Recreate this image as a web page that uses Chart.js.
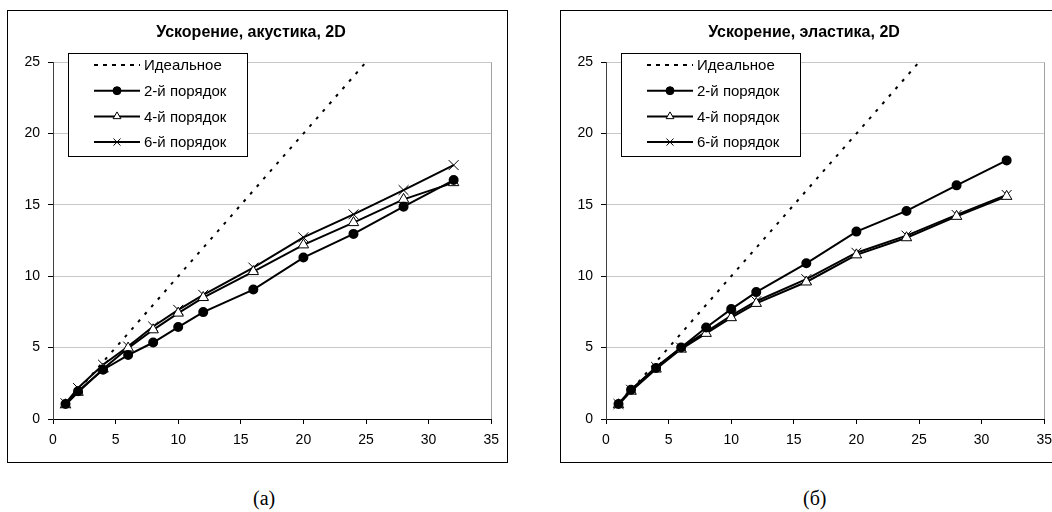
<!DOCTYPE html>
<html>
<head>
<meta charset="utf-8">
<script src="https://cdn.jsdelivr.net/npm/chart.js@4/dist/chart.umd.min.js"></script>
<style>
    body { margin: 0; width: 1052px; height: 512px; overflow: hidden; background: #fff; position: relative; }
    .box { position: absolute; top: 10px; width: 499px; height: 451px; border: 1px solid #000; }
    .caption { position: absolute; top: 487px; font: 20px/22px "Liberation Serif", serif; color: #000; }
</style>
</head>
<body>
<div class="box" style="left:7px"><canvas id="acousticChart" width="499" height="451"></canvas></div>
<div class="box" style="left:560px"><canvas id="elasticChart" width="499" height="451"></canvas></div>
<div class="caption" style="left:253px">(а)</div>
<div class="caption" style="left:803px">(б)</div>
<script>
const processors = [1, 2, 4, 6, 8, 10, 12, 16, 20, 24, 28, 32];
const ideal = [1, 2, 4, 6, 8, 10, 12, 16, 20, 24, 28, 32];

const acoustic2 = [1.05, 1.94, 3.45, 4.48, 5.36, 6.44, 7.49, 9.07, 11.31, 12.97, 14.88, 16.74];
const acoustic4 = [1.0, 1.87, 3.5, 4.97, 6.25, 7.42, 8.51, 10.33, 12.2, 13.76, 15.39, 16.56];
const acoustic6 = [1.1, 2.17, 3.8, 5.08, 6.48, 7.65, 8.7, 10.61, 12.73, 14.34, 16.04, 17.79];

const elastic2 = [1.05, 2.05, 3.57, 5.01, 6.41, 7.7, 8.89, 10.91, 13.13, 14.58, 16.37, 18.12];
const elastic4 = [1.0, 1.95, 3.5, 4.9, 6.0, 7.1, 8.1, 9.6, 11.5, 12.7, 14.2, 15.6];
const elastic6 = [1.05, 2.05, 3.65, 5.0, 6.1, 7.25, 8.25, 9.8, 11.65, 12.85, 14.3, 15.7];

const seriesNames = ["Идеальное", "2-й порядок", "4-й порядок", "6-й порядок"];
const titles = ["Ускорение, акустика, 2D", "Ускорение, эластика, 2D"];

const font = "'Liberation Sans', Arial, sans-serif";

function points(ys) {
    return processors.map((x, i) => ({ x: x, y: ys[i] }));
}

// legend box inside the plot, line sample with marker in the middle
const boxLegend = {
    id: "boxLegend",
    afterDatasetsDraw(chart) {
        const ctx = chart.ctx;
        const bx = 60, by = 42, bw = 179, bh = 103;
        ctx.save();
        ctx.fillStyle = "#fff";
        ctx.fillRect(bx, by, bw, bh);
        ctx.strokeStyle = "#000";
        ctx.lineWidth = 1;
        ctx.strokeRect(bx + 0.5, by + 0.5, bw, bh);
        chart.data.datasets.forEach((ds, i) => {
            const y = by + 12 + i * 25.7;
            ctx.strokeStyle = "#000";
            ctx.lineWidth = ds.borderWidth;
            ctx.setLineDash(ds.borderDash ? [4, 5] : []);
            ctx.beginPath();
            ctx.moveTo(bx + 26, y);
            ctx.lineTo(bx + 72, y);
            ctx.stroke();
            ctx.setLineDash([]);
            if (ds.pointRadius > 0) {
                ctx.fillStyle = ds.pointBackgroundColor || "#fff";
                ctx.strokeStyle = "#000";
                ctx.lineWidth = 1;
                Chart.helpers.drawPoint(ctx, {
                    pointStyle: ds.pointStyle,
                    radius: ds.legendRadius,
                    rotation: 0,
                    borderWidth: 1
                }, bx + 49, y);
            }
            ctx.fillStyle = "#000";
            ctx.font = "15px " + font;
            ctx.textBaseline = "middle";
            ctx.fillText(ds.label, bx + 76, y + 1);
        });
        ctx.restore();
    }
};

function makeChart(id, title, s2, s4, s6) {
    return new Chart(document.getElementById(id), {
        type: "line",
        data: {
            datasets: [
                {
                    label: seriesNames[0],
                    data: points(ideal),
                    borderColor: "#000",
                    borderWidth: 2,
                    borderDash: [3, 7],
                    pointRadius: 0,
                },
                {
                    label: seriesNames[1],
                    data: points(s2),
                    borderColor: "#000",
                    borderWidth: 2,
                    pointStyle: "circle",
                    pointRadius: 4,
                    legendRadius: 4,
                    pointBackgroundColor: "#000",
                    pointBorderColor: "#000",
                },
                {
                    label: seriesNames[2],
                    data: points(s4),
                    borderColor: "#000",
                    borderWidth: 2,
                    pointStyle: "triangle",
                    pointRadius: 6,
                    legendRadius: 4.5,
                    pointBorderWidth: 1,
                    pointBackgroundColor: "#fff",
                    pointBorderColor: "#000",
                },
                {
                    label: seriesNames[3],
                    data: points(s6),
                    borderColor: "#000",
                    borderWidth: 2,
                    pointStyle: "crossRot",
                    pointRadius: 7,
                    legendRadius: 5,
                    pointBorderWidth: 1,
                    pointBorderColor: "#000",
                },
            ],
        },
        options: {
            responsive: false,
            animation: false,
            layout: { padding: { left: 0, right: 13, top: 0, bottom: 0 } },
            plugins: {
                legend: { display: false },
                tooltip: { enabled: false },
                title: {
                    display: true,
                    text: title,
                    color: "#000",
                    font: { family: font, size: 16, weight: "bold" },
                    padding: { top: 12, bottom: 20 },
                },
            },
            scales: {
                x: {
                    type: "linear",
                    min: 0,
                    max: 35,
                    ticks: { stepSize: 5, color: "#000", padding: 8, font: { family: font, size: 14 } },
                    grid: {
                        color: (c) => (c.tick && c.tick.value === 35 ? "#a0a0a0" : "transparent"),
                        tickColor: "#000",
                        tickLength: 5,
                    },
                    border: { color: "#000", width: 1 },
                    afterFit: (scale) => { scale.height = 43; },
                },
                y: {
                    min: 0,
                    max: 25,
                    ticks: { stepSize: 5, color: "#000", padding: 8, font: { family: font, size: 14 } },
                    grid: { color: "#c8c8c8", tickColor: "#000", tickLength: 5 },
                    border: { color: "#404040", width: 1 },
                    afterFit: (scale) => { scale.width = 45; },
                },
            },
        },
        plugins: [boxLegend],
    });
}

document.addEventListener("DOMContentLoaded", function () {
    makeChart("acousticChart", titles[0], acoustic2, acoustic4, acoustic6);
    makeChart("elasticChart", titles[1], elastic2, elastic4, elastic6);
});
</script>
</body>
</html>
